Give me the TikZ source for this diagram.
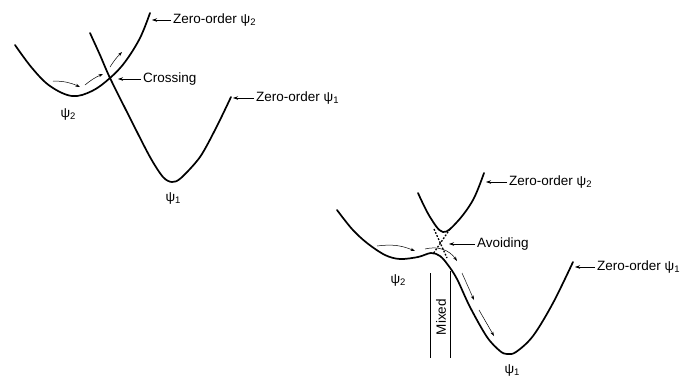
\documentclass[tikz,border=0pt]{standalone}
\usepackage{fontspec}
\setmainfont{Liberation Sans}
\usetikzlibrary{arrows.meta}
\newcommand{\psisub}[1]{ψ\raisebox{-0.35ex}{\fontsize{9.5}{10}\selectfont #1}}
\begin{document}
\begin{tikzpicture}[x=1pt,y=-1pt,
  curve/.style={line width=1.7pt,line join=round,line cap=round},
  lbl/.style={font=\fontsize{13.5}{15}\selectfont,inner sep=0pt,anchor=west},
  psi/.style={font=\fontsize{13.5}{15}\selectfont,inner sep=0pt},
  ptr/.style={line width=0.6pt,-{Stealth[length=5pt,width=3.5pt]}},
  flow/.style={line width=0.5pt,-{Stealth[length=4.5pt,width=3pt]}},
  dots/.style={line width=1.3pt,dash pattern=on 1.8pt off 1.6pt},
  thinline/.style={line width=0.6pt}]
\useasboundingbox (0,0) rectangle (681,376);
% ---------- left diagram ----------
\draw[curve] plot[smooth,tension=0.6] coordinates {(15,45) (32,68) (50,86) (72,96) (92,91) (110,78) (125,62) (140,38) (150,13)};
\draw[curve] plot[smooth,tension=0.5] coordinates {(90,33) (100,55) (110,78) (130,118) (150,157) (163,177) (172,182) (181,178) (200,157) (216,128) (231,97)};
\coordinate (z2L) at (152,20);
\coordinate (crL) at (118,79);
\coordinate (z1L) at (233,98);
\node[lbl] (tz2L) at (173,20) {Zero-order \psisub{2}};
\node[lbl] (tcrL) at (143,79) {Crossing};
\node[lbl] (tz1L) at (256,98) {Zero-order \psisub{1}};
\draw[ptr] (tz2L.west) ++(-2,0) -- (z2L);
\draw[ptr] (tcrL.west) ++(-2,0) -- (crL);
\draw[ptr] (tz1L.west) ++(-2,0) -- (z1L);
\node[psi] (p2L) at (68,114) {\psisub{2}};
\node[psi] (p1L) at (173,198) {\psisub{1}};
\coordinate (a1s) at (53,81); \coordinate (a1e) at (80,87);
\coordinate (a2s) at (85,85); \coordinate (a2e) at (103,74);
\coordinate (a3s) at (110,67); \coordinate (a3e) at (122,52);
\draw[flow] (a1s) to[bend left=12] (a1e);
\draw[flow] (a2s) to[bend left=8] (a2e);
\draw[flow] (a3s) to[bend left=6] (a3e);
% ---------- right diagram ----------
\draw[curve] plot[smooth,tension=0.55] coordinates {(337,210) (352,229) (367,243) (385,255) (400,259) (418,257) (431,253) (440,256) (448,265) (457,279) (470,307) (487,337) (500,351) (507,354) (516,352) (533,336) (553,303) (573,262)};
\draw[curve] plot[smooth,tension=0.6] coordinates {(418,193) (430,217) (443,232) (457,222) (473,200) (484,173)};
\draw[dots] (434,229) -- (447,258);
\draw[dots] (450,229) -- (433,254);
\coordinate (z2R) at (486,182);
\coordinate (avR) at (449,244);
\coordinate (z1R) at (575,267);
\node[lbl] (tz2R) at (509,182) {Zero-order \psisub{2}};
\node[lbl] (tavR) at (477,244) {Avoiding};
\node[lbl] (tz1R) at (597,267) {Zero-order \psisub{1}};
\draw[ptr] (tz2R.west) ++(-2,0) -- (z2R);
\draw[ptr] (tavR.west) ++(-2,0) -- (avR);
\draw[ptr] (tz1R.west) ++(-2,0) -- (z1R);
\node[psi] (p2R) at (398,280) {\psisub{2}};
\node[psi] (p1R) at (512,370) {\psisub{1}};
\coordinate (b1s) at (377,246); \coordinate (b1e) at (415,251);
\coordinate (b2s) at (425,249); \coordinate (b2e) at (457,261);
\coordinate (b3s) at (462,273); \coordinate (b3e) at (474,300);
\coordinate (b4s) at (479,310); \coordinate (b4e) at (494,336);
\draw[flow] (b1s) to[bend left=15] (b1e);
\draw[flow] (b2s) to[bend left=35] (b2e);
\draw[flow] (b3s) -- (b3e);
\draw[flow] (b4s) -- (b4e);
\coordinate (m1t) at (430,273); \coordinate (m1b) at (430,358);
\coordinate (m2t) at (450,271); \coordinate (m2b) at (450,358);
\draw[thinline] (m1t) -- (m1b);
\draw[thinline] (m2t) -- (m2b);
\node[psi,rotate=90] (mix) at (441,317) {Mixed};
\end{tikzpicture}
\end{document}
